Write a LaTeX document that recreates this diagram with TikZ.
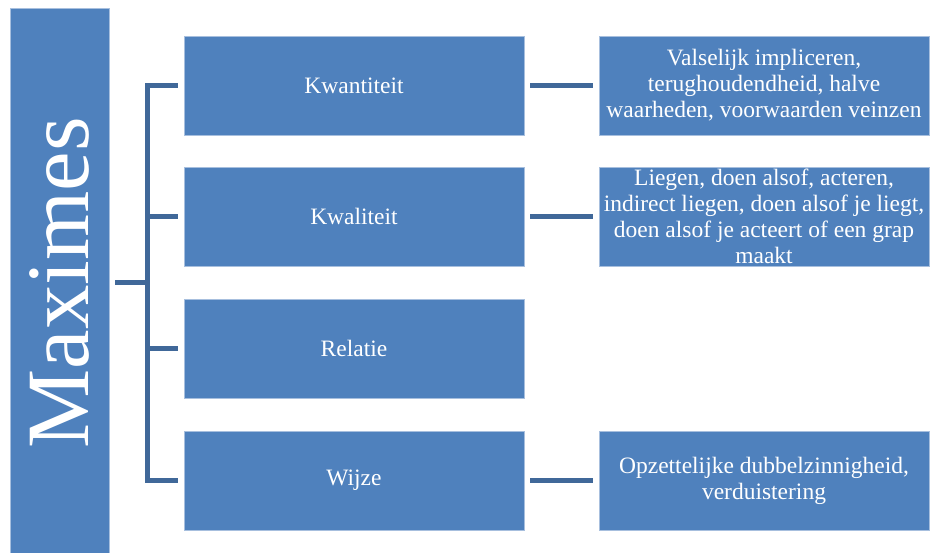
\documentclass[tikz,border=0pt]{standalone}
\usepackage{fontspec}
\setmainfont{Liberation Serif}
\usetikzlibrary{positioning}
\definecolor{boxblue}{RGB}{79,129,189}
\definecolor{boxedge}{RGB}{167,191,222}
\definecolor{linkblue}{RGB}{64,104,153}

\begin{document}
\begin{tikzpicture}[x=1pt,y=-1pt,
  cell/.style={draw=boxedge,line width=.8pt,fill=boxblue,text=white,align=center,inner sep=2pt},
  catbox/.style={cell,minimum width=340,minimum height=99,font=\fontsize{23.5}{26.5}\selectfont},
  descbox/.style={cell,minimum width=330,minimum height=99,font=\fontsize{23.5}{26}\selectfont},
  link/.style={draw=linkblue,line width=5pt,line join=miter}]
  \useasboundingbox (0,0) rectangle (930,553);
  \node[cell,rotate=90,minimum width=550,minimum height=99,font=\fontsize{89}{90}\selectfont] (maxb) at (59.5,283) {Maximes};
  \node[catbox] (kwan) at (354,85.5) {Kwantiteit};
  \node[catbox] (kwal) at (354,216.5) {Kwaliteit};
  \node[catbox] (rel) at (354,348.5) {Relatie};
  \node[catbox] (wijze) at (354,480.5) {Wijze};
  \node[descbox] (kwand) at (764,85.5) {Valselijk impliceren,\\terughoudendheid, halve\\waarheden, voorwaarden veinzen};
  \node[descbox] (kwald) at (764,216.5) {Liegen, doen alsof, acteren,\\indirect liegen, doen alsof je liegt,\\doen alsof je acteert of een grap\\maakt};
  \node[descbox] (wijzed) at (764,480.5) {Opzettelijke dubbelzinnigheid,\\verduistering};
  \coordinate (hub) at (147,283);
  % bracket
  \draw[link] ([xshift=6]maxb.south) -- (hub);
  \draw[link] ([xshift=-6]kwan.west) -| (hub |- wijze.west) -- ([xshift=-6]wijze.west);
  \foreach \n in {kwal,rel} \draw[link] (hub |- \n.west) -- ([xshift=-6]\n.west);
  % right side
  \foreach \a/\b in {kwan/kwand,kwal/kwald,wijze/wijzed}
    \draw[link,shorten <=6,shorten >=6] (\a.east) -- (\b.west);
\end{tikzpicture}
\end{document}
